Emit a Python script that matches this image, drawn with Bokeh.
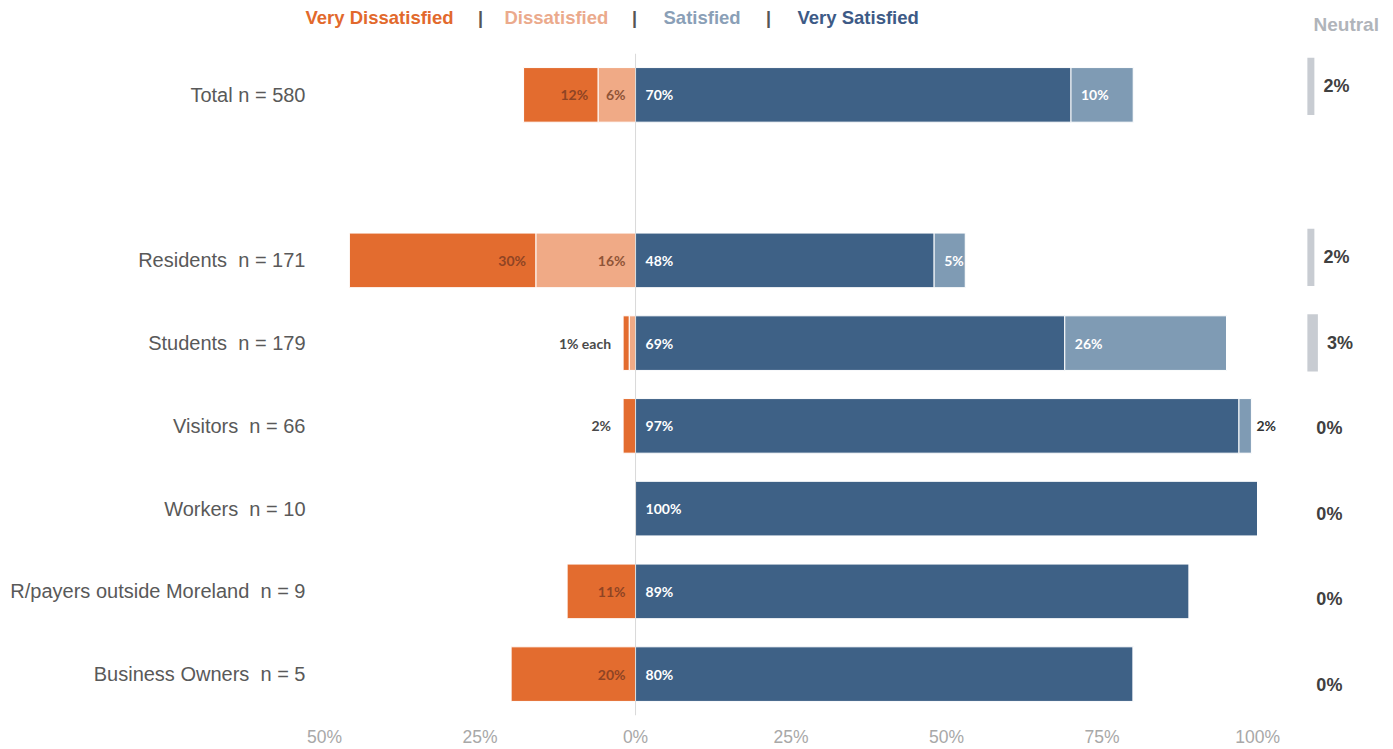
import numpy as np
from bokeh.plotting import figure
from bokeh.models import ColumnDataSource, Range1d, FixedTicker, Span
from bokeh.layouts import row, column
from bokeh.embed import file_html
from bokeh.resources import INLINE
from bokeh.core.properties import value

# ---------------- data ----------------
categories = ["Total n = 580", "Residents  n = 171", "Students  n = 179", "Visitors  n = 66",
              "Workers  n = 10", "R/payers outside Moreland  n = 9", "Business Owners  n = 5"]
row_slot = [0, 2, 3, 4, 5, 6, 7]          # a blank row after "Total"
very_dissatisfied = [12, 30, 1, 2, 0, 11, 20]
dissatisfied = [6, 16, 1, 0, 0, 0, 0]
very_satisfied = [70, 48, 69, 97, 100, 89, 80]
satisfied = [10, 5, 26, 2, 0, 0, 0]
neutral = [2, 2, 3, 0, 0, 0, 0]
tick_values = [-50, -25, 0, 25, 50, 75, 100]
tick_labels = ["50%", "25%", "0%", "25%", "50%", "75%", "100%"]
legend_labels = ["Very Dissatisfied", "Dissatisfied", "Satisfied", "Very Satisfied"]
neutral_title = "Neutral"

# ---------------- styles ----------------
C_VD, C_D, C_S, C_VS, C_N = "#E36C2F", "#F0AA86", "#7F9BB4", "#3E6186", "#C8CCD2"
LEG_COLORS = ["#E2692C", "#EBAA8C", "#8A9FB7", "#3D5A86"]
LBL_FONT = value("Lato")
BAR_H = 0.66
TOP_H = 43
TOTAL_H = 749

vd = np.array(very_dissatisfied, float)
d = np.array(dissatisfied, float)
vs = np.array(very_satisfied, float)
s = np.array(satisfied, float)
y = np.array(row_slot, float)

src = ColumnDataSource(dict(
    y=y,
    vd_l=-(vd + d), vd_r=-d,
    d_l=-d, d_r=np.zeros_like(d),
    vs_l=np.zeros_like(vs), vs_r=vs,
    s_l=vs, s_r=vs + s,
))

H = TOTAL_H - TOP_H
p = figure(width=1282, height=H, output_backend="svg", toolbar_location=None,
           x_range=Range1d(-50, 104), y_range=Range1d(7.5, -0.5),
           min_border_left=324, min_border_right=0, min_border_top=10, min_border_bottom=32)
p.outline_line_color = None
p.xgrid.visible = False
p.ygrid.visible = False
p.background_fill_color = "white"
p.border_fill_color = "white"

for l, r, c in [("vd_l", "vd_r", C_VD), ("d_l", "d_r", C_D), ("vs_l", "vs_r", C_VS), ("s_l", "s_r", C_S)]:
    p.hbar(y="y", left=l, right=r, height=BAR_H, source=src, fill_color=c,
           line_color="white", line_width=1)

p.add_layout(Span(location=0, dimension="height", line_color="#D9D9D9", line_width=1))

# --- segment labels ---
def add_text(fig, xs, ys, texts, color, align, xoff, bold=True, size="14px", font=LBL_FONT):
    if not xs:
        return
    ds = ColumnDataSource(dict(x=xs, y=ys, t=texts))
    fig.text(x="x", y="y", text="t", source=ds, text_color=color, text_align=align,
             text_baseline="middle", x_offset=xoff, text_font=font,
             text_font_size=size, text_font_style="bold" if bold else "normal")

vdx, vdy, vdt = [], [], []
dx, dy, dt = [], [], []
ox, oy, ot = [], [], []
for i in range(len(categories)):
    if vd[i] >= 5:
        vdx.append(-d[i]); vdy.append(y[i]); vdt.append(f"{int(vd[i])}%")
    if d[i] >= 5:
        dx.append(0.0); dy.append(y[i]); dt.append(f"{int(d[i])}%")
    if 0 < vd[i] < 5 and d[i] < 5:
        ox.append(-(vd[i] + d[i])); oy.append(y[i])
        ot.append(f"{int(vd[i])}% each" if vd[i] == d[i] else f"{int(vd[i] + d[i])}%")
add_text(p, vdx, vdy, vdt, "#8F4424", "right", -10)
add_text(p, dx, dy, dt, "#8F5437", "right", -10)
add_text(p, ox, oy, ot, "#4A4A4A", "right", -12)

px, py, pt = [], [], []
sox, soy, sot = [], [], []
for i in range(len(categories)):
    px.append(0.0); py.append(y[i]); pt.append(f"{int(vs[i])}%")
    if s[i] >= 5:
        px.append(vs[i]); py.append(y[i]); pt.append(f"{int(s[i])}%")
    elif s[i] > 0:
        sox.append(vs[i] + s[i]); soy.append(y[i]); sot.append(f"{int(s[i])}%")
add_text(p, px, py, pt, "white", "left", 10)
add_text(p, sox, soy, sot, "#333333", "left", 5)

# --- axes ---
p.xaxis.ticker = FixedTicker(ticks=tick_values)
p.xaxis.major_label_overrides = {v: t for v, t in zip(tick_values, tick_labels)}
p.xaxis.axis_line_color = None
p.xaxis.major_tick_line_color = None
p.xaxis.minor_tick_line_color = None
p.xaxis.major_tick_out = 0
p.xaxis.major_label_standoff = 11
p.xaxis.major_label_text_font = "Liberation Sans"
p.xaxis.major_label_text_font_size = "17.5px"
p.xaxis.major_label_text_color = "#A8A8A8"

p.yaxis.ticker = FixedTicker(ticks=row_slot)
# keep the double space before "n" visible (non-breaking space)
p.yaxis.major_label_overrides = {v: c.replace("  ", " \u00a0") for v, c in zip(row_slot, categories)}
p.yaxis.axis_line_color = None
p.yaxis.major_tick_line_color = None
p.yaxis.minor_tick_line_color = None
p.yaxis.major_tick_out = 0
p.yaxis.major_label_standoff = 19
p.yaxis.major_label_text_font = "Liberation Sans"
p.yaxis.major_label_text_font_size = "20px"
p.yaxis.major_label_text_color = "#595959"

# ---------------- neutral column ----------------
nsrc = ColumnDataSource(dict(y=y, n=np.array(neutral, float), t=[f"{v}%" for v in neutral]))
q = figure(width=103, height=H, output_backend="svg", toolbar_location=None,
           x_range=Range1d(-7.1, 22.3), y_range=Range1d(7.362, -0.385),
           min_border_left=0, min_border_right=0, min_border_top=10, min_border_bottom=32)
q.axis.visible = False
q.grid.visible = False
q.outline_line_color = None
q.hbar(y="y", left=0, right="n", height=0.67, source=nsrc, fill_color=C_N, line_color=None)
q.text(x="n", y="y", text="t", source=nsrc, x_offset=9, text_baseline="middle",
       text_align="left", text_font=value("Liberation Sans"), text_font_style="bold",
       text_font_size="18px", text_color="#404040")

# ---------------- header strip (legend words + "Neutral") ----------------
t = figure(width=1385, height=TOP_H, output_backend="svg", toolbar_location=None,
           x_range=Range1d(0, 1385), y_range=Range1d(TOP_H, 0),
           min_border_left=0, min_border_right=0, min_border_top=0, min_border_bottom=0)
t.axis.visible = False
t.grid.visible = False
t.outline_line_color = None
HF = value("Liberation Sans")
leg_x = [305, 504, 663, 797]
for lx, txt, c in zip(leg_x, legend_labels, LEG_COLORS):
    add_text(t, [lx], [17], [txt], c, "left", 0, size="18.5px", font=HF)
add_text(t, [480, 634, 768], [17, 17, 17], ["|", "|", "|"], "#555555", "center", 0, size="18px", font=HF)
add_text(t, [1313], [24], [neutral_title], "#B0B4BA", "left", 0, size="19px", font=HF)

layout = column(t, row(p, q))
open("out.html", "w").write(file_html(layout, INLINE))
